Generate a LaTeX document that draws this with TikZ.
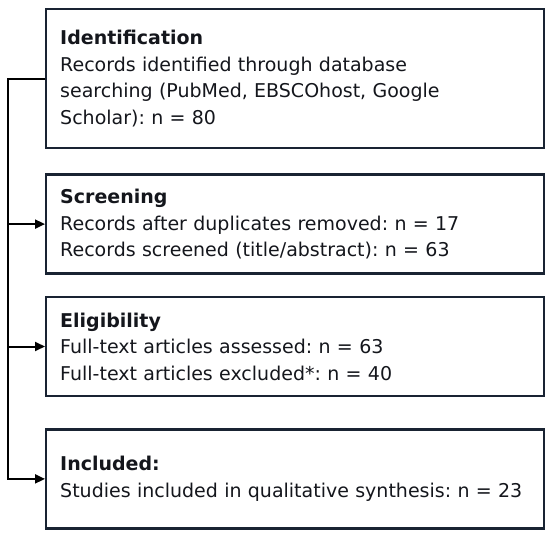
\documentclass[tikz,border=0pt]{standalone}
\usepackage{fontspec}
\setmainfont{DejaVu Sans}
\usetikzlibrary{arrows.meta, positioning}
\definecolor{boxline}{RGB}{25,35,50}
\definecolor{ink}{RGB}{20,22,28}

\begin{document}
\frenchspacing
\begin{tikzpicture}
  [x = 1pt, y = 1pt,
   stage/.style = {draw=boxline, line width=2.4pt, text=ink, text width=470pt,
                   align=left, inner xsep=14pt, minimum height=99pt,
                   font=\fontsize{19}{26.5}\selectfont},
   feed/.style = {line width=2pt},
   pointer/.style = {feed, -{Triangle[length=10pt, width=9pt]}}]

  \useasboundingbox (0,0) rectangle (550,-535);

  \node[stage, minimum height=139pt, anchor=north west] (ident) at (45,-8)
    {\textbf{Identification}\\
     Records identified through database\\
     searching (PubMed, EBSCOhost, Google\\
     Scholar): n = 80};
  \node[stage] (screen) [below=24pt of ident]
    {\textbf{Screening}\\
     Records after duplicates removed: n = 17\\
     Records screened (title/abstract): n = 63};
  \node[stage] (elig)   [below=21pt of screen]
    {\textbf{Eligibility}\\
     Full-text articles assessed: n = 63\\
     Full-text articles excluded*: n = 40};
  \node[stage] (incl)   [below=31pt of elig]
    {\textbf{Included:}\\
     Studies included in qualitative synthesis: n = 23};

  \draw[pointer] (ident.west) -- ++(-37,0) coordinate (spine) |- (incl.west);
  \foreach \target in {screen, elig}
    \draw[pointer] (spine |- \target.west) -- (\target.west);
\end{tikzpicture}
\end{document}
